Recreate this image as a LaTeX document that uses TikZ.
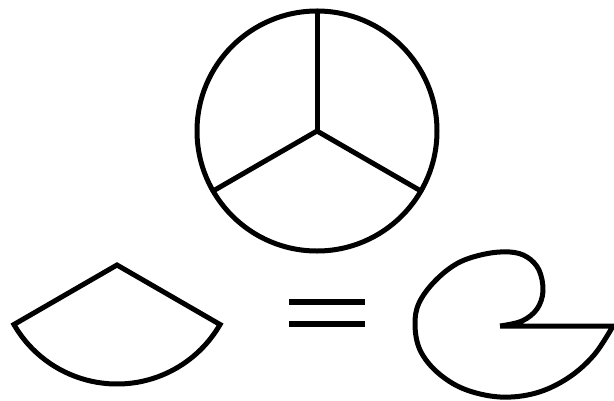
\documentclass[tikz,border=0pt]{standalone}
\begin{document}
\begin{tikzpicture}[x=1pt,y=-1pt,
  shape line/.style={line width=5pt, line join=round, line cap=round}]
\useasboundingbox (0,0) rectangle (614,400);
% whole circle with three spokes
\coordinate (c) at (317,131);
\draw[shape line] (c) circle[radius=120];
\draw[shape line] (c) -- ++(270:120);
\draw[shape line] (c) -- ++(150:120);
\draw[shape line] (c) -- ++(30:120);
% one-third sector
\coordinate (apex) at (117,265);
\draw[shape line, line join=miter] (apex) -- ++(150:119) arc[start angle=150, end angle=30, radius=119] -- cycle;
% equals sign
\coordinate (e1) at (289,302);
\coordinate (e2) at (365,302);
\coordinate (e3) at (289,324);
\coordinate (e4) at (365,324);
\draw[line width=5.5pt] (e1) -- (e2);
\draw[line width=5.5pt] (e3) -- (e4);
% the remaining two-thirds, curled
\coordinate (inner) at (500,326);
\coordinate (outer) at (613,326);
\draw[shape line, line join=miter, line cap=butt] plot[smooth, tension=0.6] coordinates {
  (500,326) (522,321) (537,309) (543,291) (539,270) (527,257) (510,252)
  (485,254) (458,263) (435,281) (419,303) (415,325) (420,350) (437,372)
  (464,389) (500,397) (536,393) (568,378) (594,355) (613,326)} -- (inner);
\end{tikzpicture}
\end{document}
